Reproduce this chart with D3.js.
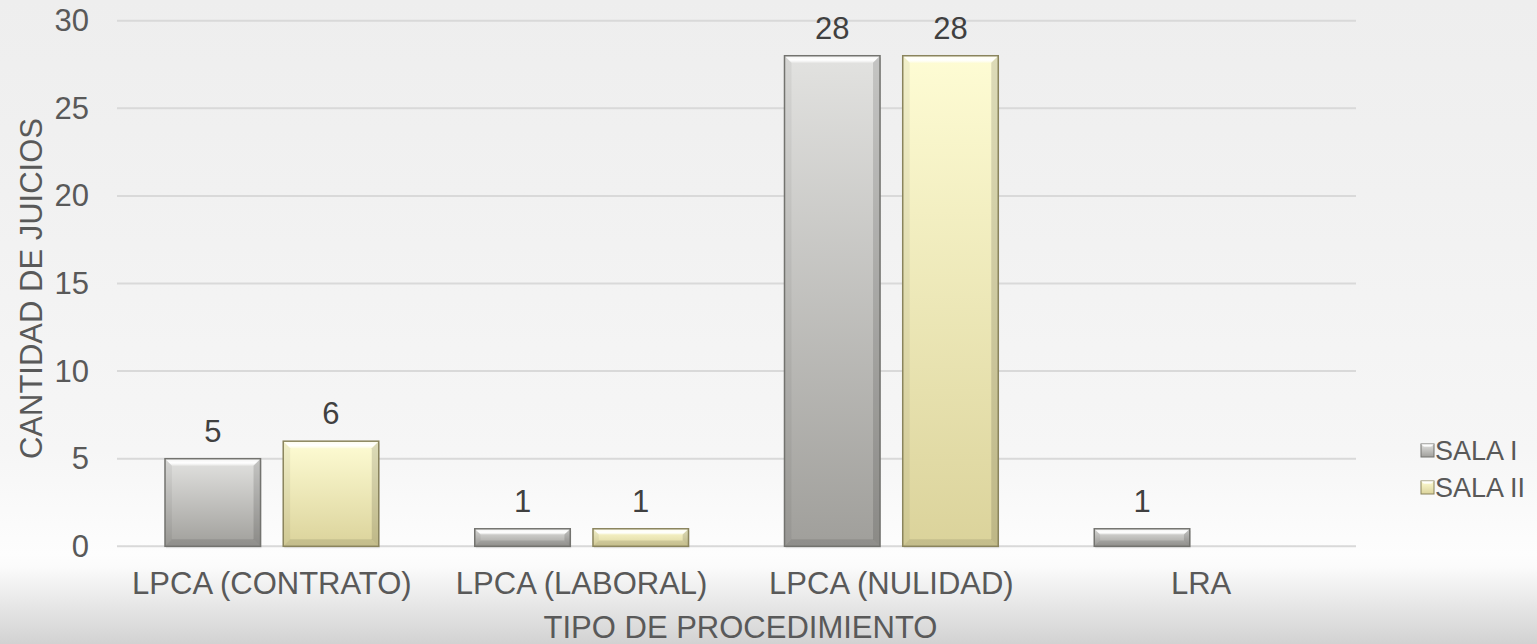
<!DOCTYPE html>
<html>
<head>
<meta charset="utf-8">
<script src="https://cdn.jsdelivr.net/npm/d3@7"></script>
<style>
  html, body { margin: 0; padding: 0; overflow: hidden; }
  body { width: 1537px; height: 644px; }
  text { font-family: "Liberation Sans", Arial, sans-serif; }
</style>
</head>
<body>
<script>
// chart data
var categories = ["LPCA (CONTRATO)", "LPCA (LABORAL)", "LPCA (NULIDAD)", "LRA"];
var seriesNames = ["SALA I", "SALA II"];
var salaI = [5, 1, 28, 1];
var salaII = [6, 1, 28, null];
var yTicks = [0, 5, 10, 15, 20, 25, 30];

var width = 1537, height = 644;
var plot = {left: 117, right: 1356, top: 20.7, bottom: 546.3};

var svg = d3.select("body").append("svg")
    .attr("width", width)
    .attr("height", height);

var defs = svg.append("defs");

// chart background: light grey top, white band, grey fade at the bottom
var bg = defs.append("linearGradient").attr("id", "bg")
    .attr("x1", 0).attr("y1", 0).attr("x2", 0).attr("y2", 1);
[[0, "#eeeeee"], [0.3, "#f1f1f1"], [0.7, "#f6f6f6"], [0.86, "#fdfdfd"],
 [0.88, "#fbfbfb"], [1, "#d2d2d2"]].forEach(function(s) {
    bg.append("stop").attr("offset", s[0]).attr("stop-color", s[1]);
});
svg.append("rect").attr("width", width).attr("height", height).attr("fill", "url(#bg)");

// bar fills
var fills = {
    "SALA I": {top: "#e2e2e0", bottom: "#a09f9b", stroke: "#73736f"},
    "SALA II": {top: "#fefcd4", bottom: "#dbd39b", stroke: "#8a845d"}
};
seriesNames.forEach(function(s, i) {
    var g = defs.append("linearGradient").attr("id", "fill" + i)
        .attr("x1", 0).attr("y1", 0).attr("x2", 0).attr("y2", 1);
    g.append("stop").attr("offset", 0).attr("stop-color", fills[s].top);
    g.append("stop").attr("offset", 1).attr("stop-color", fills[s].bottom);
});
var hl = defs.append("linearGradient").attr("id", "hl")
    .attr("x1", 0).attr("y1", 0).attr("x2", 0).attr("y2", 1);
hl.append("stop").attr("offset", 0).attr("stop-color", "#fff").attr("stop-opacity", 0.6);
hl.append("stop").attr("offset", 0.6).attr("stop-color", "#fff").attr("stop-opacity", 1);
hl.append("stop").attr("offset", 1).attr("stop-color", "#fff").attr("stop-opacity", 0.3);

// scales
var x0 = d3.scaleBand().domain(categories).range([plot.left, plot.right]).padding(0);
var x1 = d3.scaleBand().domain(seriesNames).range([0, x0.bandwidth()])
    .paddingInner(0.192).paddingOuter(0.406);
var y = d3.scaleLinear().domain([0, 30]).range([plot.bottom, plot.top]);

// gridlines
svg.append("g").selectAll("line")
    .data(yTicks)
    .enter().append("line")
    .attr("x1", plot.left).attr("x2", plot.right)
    .attr("y1", function(d) { return y(d); })
    .attr("y2", function(d) { return y(d); })
    .attr("stroke", "#d9d9d9")
    .attr("stroke-width", 2);

// y axis labels
var yAxis = svg.append("g")
    .attr("transform", "translate(" + 89 + ",0)")
    .call(d3.axisLeft(y).tickValues(yTicks).tickSize(0).tickPadding(0));
yAxis.select(".domain").remove();
yAxis.selectAll("text")
    .attr("font-family", "Liberation Sans, Arial, sans-serif")
    .attr("font-size", 31)
    .attr("fill", "#595959");

// x axis labels
var xAxis = svg.append("g")
    .attr("transform", "translate(0," + 594 + ")")
    .call(d3.axisBottom(x0).tickSize(0).tickPadding(0));
xAxis.select(".domain").remove();
xAxis.selectAll("text")
    .attr("dy", 0)
    .attr("font-family", "Liberation Sans, Arial, sans-serif")
    .attr("font-size", 31)
    .attr("fill", "#595959");

// bars
var rows = [];
categories.forEach(function(c, i) {
    rows.push({cat: c, s: "SALA I", idx: 0, v: salaI[i]});
    rows.push({cat: c, s: "SALA II", idx: 1, v: salaII[i]});
});
rows = rows.filter(function(d) { return d.v != null; });

function bevel(g, d) {
    var bx = x0(d.cat) + x1(d.s), bw = x1.bandwidth();
    var by = y(d.v), bh = y(0) - y(d.v);
    var b = Math.min(7, bh / 3);
    // soft shadow under the bar
    g.append("rect")
        .attr("x", bx + 1).attr("y", by + 2).attr("width", bw).attr("height", bh)
        .attr("fill", "#000").attr("opacity", 0.08);
    g.append("rect")
        .attr("x", bx).attr("y", by).attr("width", bw).attr("height", bh)
        .attr("fill", "url(#fill" + d.idx + ")");
    // bevel faces
    g.append("polygon")
        .attr("points", [[bx, by], [bx + bw, by], [bx + bw - b, by + b], [bx + b, by + b]].join(" "))
        .attr("fill", "url(#hl)");
    g.append("polygon")
        .attr("points", [[bx, by], [bx + b, by + b], [bx + b, by + bh - b], [bx, by + bh]].join(" "))
        .attr("fill", "#000").attr("opacity", 0.05);
    g.append("polygon")
        .attr("points", [[bx + bw, by], [bx + bw - b, by + b], [bx + bw - b, by + bh - b], [bx + bw, by + bh]].join(" "))
        .attr("fill", "#000").attr("opacity", 0.13);
    g.append("polygon")
        .attr("points", [[bx, by + bh], [bx + b, by + bh - b], [bx + bw - b, by + bh - b], [bx + bw, by + bh]].join(" "))
        .attr("fill", "#000").attr("opacity", 0.1);
    g.append("rect")
        .attr("x", bx).attr("y", by).attr("width", bw).attr("height", bh)
        .attr("fill", "none")
        .attr("stroke", fills[d.s].stroke)
        .attr("stroke-width", 1.5);
}

svg.append("g").selectAll("g")
    .data(rows)
    .enter().append("g")
    .each(function(d) { bevel(d3.select(this), d); });

// value labels
svg.append("g").selectAll("text")
    .data(rows)
    .enter().append("text")
    .attr("x", function(d) { return x0(d.cat) + x1(d.s) + x1.bandwidth() / 2; })
    .attr("y", function(d) { return y(d.v) - 17; })
    .attr("text-anchor", "middle")
    .attr("font-size", 31)
    .attr("fill", "#404040")
    .text(function(d) { return d.v; });

// axis titles
svg.append("text")
    .attr("x", (plot.left + plot.right) / 2 + 4)
    .attr("y", 637.5)
    .attr("text-anchor", "middle")
    .attr("font-size", 31)
    .attr("fill", "#595959")
    .text("TIPO DE PROCEDIMIENTO");

svg.append("text")
    .attr("transform", "translate(41.5," + ((plot.top + plot.bottom) / 2 + 5) + ") rotate(-90)")
    .attr("text-anchor", "middle")
    .attr("font-size", 31)
    .attr("fill", "#595959")
    .text("CANTIDAD DE JUICIOS");

// legend
var legend = svg.append("g").attr("transform", "translate(1421,0)");
seriesNames.forEach(function(s, i) {
    var ly = 450 + i * 37;
    legend.append("rect")
        .attr("x", 0).attr("y", ly - 6).attr("width", 13).attr("height", 13)
        .attr("fill", "url(#fill" + i + ")")
        .attr("stroke", fills[s].stroke).attr("stroke-width", 1);
    legend.append("polygon")
        .attr("points", [[0, ly - 6], [13, ly - 6], [10, ly - 3], [3, ly - 3]].join(" "))
        .attr("fill", "url(#hl)");
    legend.append("text")
        .attr("x", 14).attr("y", ly + 10)
        .attr("font-size", 27)
        .attr("fill", "#595959")
        .text(s);
});
</script>
</body>
</html>
